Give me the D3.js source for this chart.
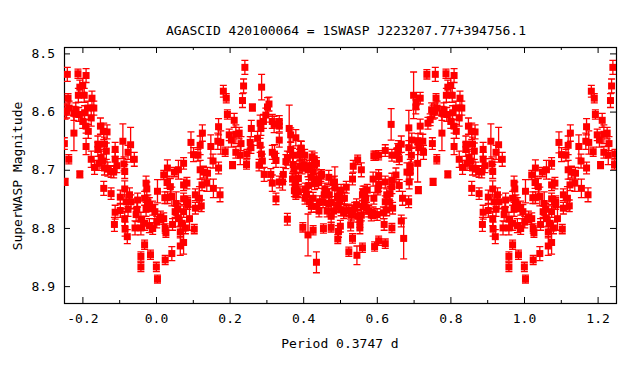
<!DOCTYPE html>
<html>
<head>
<meta charset="utf-8">
<script src="https://cdn.jsdelivr.net/npm/d3@7"></script>
<style>
body { margin: 0; background: #fff; }
svg { display: block; font-family: "DejaVu Sans Mono", "Liberation Mono", monospace; }
</style>
</head>
<body>
<svg width="640" height="384"></svg>
<script>
var title = "AGASCID 420100064 = 1SWASP J223207.77+394756.1";
var xTitle = "Period 0.3747 d";
var yTitle = "SuperWASP Magnitude";
var xMajor = [-0.2, 0.0, 0.2, 0.4, 0.6, 0.8, 1.0, 1.2];
var xMinor = [-0.1, 0.1, 0.3, 0.5, 0.7, 0.9, 1.1];
var yMajor = [8.5, 8.6, 8.7, 8.8, 8.9];

// [phase, magnitude, error] for one cycle
var lightCurve = [
  [0.183,8.565,0.010],[0.191,8.577,0.008],[0.194,8.605,0.008],[0.170,8.626,0.014],[0.168,8.651,0.014],
  [0.176,8.653,0.020],[0.188,8.669,0.008],[0.126,8.637,0.014],[0.120,8.658,0.016],[0.095,8.653,0.018],
  [0.102,8.674,0.012],[0.114,8.675,0.010],[0.149,8.660,0.020],[0.155,8.685,0.012],[0.170,8.697,0.010],
  [0.120,8.700,0.016],[0.129,8.704,0.010],[0.140,8.706,0.010],[0.138,8.723,0.014],[0.156,8.732,0.016],
  [0.174,8.743,0.012],[0.125,8.726,0.010],[0.118,8.749,0.020],[0.123,8.762,0.010],[0.107,8.743,0.010],
  [0.107,8.766,0.010],[0.104,8.802,0.008],[0.091,8.784,0.020],[0.086,8.755,0.010],[0.084,8.723,0.010],
  [0.075,8.726,0.010],[0.075,8.689,0.010],[0.061,8.700,0.016],[0.050,8.704,0.008],[0.031,8.697,0.014],
  [0.021,8.709,0.008],[0.030,8.722,0.010],[0.039,8.729,0.014],[0.004,8.737,0.020],[0.024,8.748,0.010],
  [0.031,8.748,0.010],[0.043,8.746,0.016],[0.055,8.758,0.020],[0.059,8.768,0.010],[0.075,8.750,0.010],
  [0.075,8.772,0.010],[0.086,8.758,0.010],[0.052,8.772,0.010],[0.061,8.784,0.014],[0.071,8.792,0.010],
  [0.080,8.800,0.010],[0.066,8.807,0.010],[0.045,8.794,0.010],[0.025,8.801,0.008],[0.027,8.808,0.008],
  [0.021,8.784,0.010],[0.012,8.781,0.010],[0.002,8.790,0.010],[0.075,8.825,0.020],[0.066,8.831,0.016],
  [0.043,8.844,0.012],[0.025,8.855,0.008],[0.001,8.867,0.008],[0.004,8.888,0.007],
  [0.2415,8.524,0.012],[0.238,8.556,0.012],[0.235,8.581,0.012],[0.262,8.593,0.006],[0.287,8.558,0.022],
  [0.303,8.592,0.016],[0.307,8.587,0.012],[0.2985,8.606,0.012],[0.283,8.620,0.014],[0.285,8.629,0.012],
  [0.292,8.617,0.012],[0.316,8.617,0.012],[0.321,8.622,0.014],[0.335,8.617,0.010],[0.335,8.625,0.010],
  [0.362,8.629,0.040],[0.366,8.640,0.012],[0.380,8.645,0.014],[0.3935,8.663,0.012],[0.392,8.673,0.010],
  [0.199,8.640,0.010],[0.217,8.639,0.016],[0.226,8.637,0.010],[0.2125,8.615,0.012],[0.205,8.649,0.012],
  [0.231,8.655,0.012],[0.229,8.675,0.016],[0.217,8.670,0.010],[0.208,8.692,0.006],[0.247,8.673,0.008],
  [0.246,8.691,0.008],[0.256,8.653,0.010],[0.259,8.629,0.014],[0.258,8.662,0.010],[0.276,8.646,0.012],
  [0.283,8.658,0.012],[0.2865,8.673,0.012],[0.289,8.685,0.012],[0.280,8.692,0.010],[0.294,8.708,0.012],
  [0.312,8.708,0.010],[0.316,8.670,0.012],[0.322,8.673,0.016],[0.326,8.684,0.012],[0.316,8.723,0.014],
  [0.326,8.750,0.010],[0.335,8.721,0.010],[0.346,8.708,0.012],[0.344,8.721,0.014],[0.353,8.686,0.012],
  [0.357,8.680,0.012],[0.335,8.649,0.012],[0.366,8.665,0.012],[0.371,8.675,0.012],[0.373,8.691,0.012],
  [0.375,8.699,0.010],[0.371,8.716,0.010],[0.380,8.716,0.010],[0.378,8.727,0.010],[0.376,8.736,0.010],
  [0.383,8.736,0.010],[0.380,8.743,0.008],[0.384,8.738,0.008],[0.357,8.785,0.010],
  [0.395,8.663,0.012],[0.404,8.675,0.010],[0.390,8.675,0.010],[0.387,8.715,0.010],[0.387,8.738,0.010],
  [0.405,8.733,0.010],[0.409,8.743,0.010],[0.405,8.749,0.010],[0.413,8.700,0.012],[0.417,8.694,0.010],
  [0.424,8.678,0.010],[0.430,8.681,0.010],[0.431,8.692,0.010],[0.436,8.689,0.010],[0.427,8.704,0.010],
  [0.422,8.713,0.010],[0.436,8.716,0.010],[0.431,8.724,0.010],[0.442,8.722,0.010],[0.448,8.710,0.010],
  [0.450,8.708,0.008],[0.417,8.755,0.008],[0.427,8.749,0.010],[0.436,8.763,0.010],[0.443,8.771,0.010],
  [0.445,8.755,0.010],[0.454,8.755,0.010],[0.457,8.743,0.010],[0.459,8.733,0.010],[0.464,8.738,0.010],
  [0.4695,8.713,0.012],[0.481,8.722,0.010],[0.485,8.721,0.010],[0.486,8.731,0.036],[0.471,8.743,0.010],
  [0.4695,8.758,0.010],[0.476,8.756,0.010],[0.483,8.771,0.010],[0.465,8.771,0.010],[0.476,8.780,0.010],
  [0.493,8.746,0.010],[0.499,8.743,0.010],[0.503,8.735,0.010],[0.507,8.749,0.010],[0.512,8.749,0.010],
  [0.517,8.730,0.010],[0.499,8.755,0.010],[0.494,8.763,0.010],[0.503,8.769,0.010],[0.510,8.774,0.010],
  [0.518,8.771,0.010],[0.524,8.769,0.010],[0.531,8.778,0.010],[0.536,8.771,0.010],[0.540,8.766,0.010],
  [0.545,8.760,0.010],[0.548,8.780,0.010],[0.554,8.789,0.010],[0.558,8.778,0.010],[0.563,8.763,0.010],
  [0.566,8.755,0.010],[0.561,8.743,0.010],[0.563,8.738,0.010],[0.567,8.738,0.010],[0.574,8.735,0.010],
  [0.570,8.749,0.010],[0.572,8.766,0.010],[0.578,8.771,0.010],[0.585,8.778,0.010],[0.590,8.774,0.010],
  [0.592,8.749,0.010],[0.590,8.716,0.012],[0.592,8.676,0.008],[0.548,8.683,0.008],[0.558,8.700,0.012],
  [0.536,8.694,0.010],[0.534,8.716,0.010],[0.529,8.795,0.010],[0.554,8.800,0.010],[0.534,8.818,0.008],
  [0.561,8.834,0.008],[0.524,8.841,0.008],[0.546,8.847,0.016],[0.594,8.832,0.008],[0.494,8.819,0.008],
  [0.496,8.806,0.010],[0.501,8.797,0.010],[0.476,8.799,0.008],[0.455,8.801,0.008],[0.427,8.804,0.008],
  [0.413,8.812,0.036],[0.399,8.799,0.008],[0.436,8.859,0.018],[0.422,8.763,0.010],[0.397,8.697,0.010],
  [0.402,8.692,0.010],[0.391,8.694,0.010],[0.415,8.727,0.010],
  [0.596,8.676,0.008],[0.605,8.675,0.008],[0.623,8.667,0.010],[0.641,8.675,0.010],[0.639,8.622,0.027],
  [0.654,8.675,0.012],[0.659,8.662,0.012],[0.657,8.667,0.012],[0.6665,8.656,0.014],[0.661,8.681,0.010],
  [0.652,8.709,0.012],[0.641,8.718,0.012],[0.623,8.721,0.010],[0.605,8.710,0.010],[0.605,8.727,0.010],
  [0.603,8.735,0.008],[0.641,8.729,0.012],[0.636,8.741,0.012],[0.627,8.743,0.010],[0.623,8.755,0.010],
  [0.634,8.755,0.010],[0.643,8.766,0.010],[0.627,8.769,0.010],[0.618,8.774,0.010],[0.601,8.777,0.010],
  [0.620,8.794,0.010],[0.641,8.800,0.008],[0.6665,8.788,0.010],[0.673,8.818,0.035],[0.623,8.827,0.008],
  [0.605,8.822,0.008],[0.661,8.727,0.010],[0.670,8.749,0.012],[0.6865,8.755,0.010],[0.682,8.704,0.016],
  [0.691,8.704,0.012],[0.688,8.721,0.012],[0.691,8.694,0.012],[0.687,8.662,0.012],[0.687,8.628,0.030],
  [0.695,8.649,0.012],[0.694,8.675,0.012],[0.700,8.572,0.040],[0.706,8.592,0.012],[0.707,8.584,0.012],
  [0.718,8.577,0.010],[0.718,8.625,0.012],[0.712,8.650,0.012],[0.714,8.662,0.012],[0.725,8.651,0.012],
  [0.727,8.670,0.012],[0.711,8.689,0.032],[0.713,8.735,0.006],[0.736,8.536,0.008],[0.759,8.536,0.012],
  [0.788,8.535,0.008],[0.793,8.558,0.012],[0.789,8.572,0.012],[0.761,8.577,0.008],[0.749,8.597,0.012],
  [0.753,8.601,0.012],[0.757,8.599,0.012],[0.764,8.594,0.012],[0.739,8.620,0.010],[0.745,8.614,0.010],
  [0.777,8.603,0.012],[0.782,8.597,0.012],[0.790,8.605,0.012],[0.777,8.637,0.030],[0.751,8.655,0.010],
  [0.763,8.682,0.008],[0.753,8.721,0.006],[0.793,8.708,0.006],
  [0.810,8.538,0.012],[0.801,8.555,0.012],[0.805,8.572,0.012],[0.826,8.577,0.012],[0.831,8.594,0.012],
  [0.815,8.594,0.012],[0.806,8.602,0.012],[0.824,8.611,0.014],[0.801,8.617,0.012],[0.810,8.625,0.012],
  [0.816,8.634,0.012],[0.810,8.660,0.014],[0.849,8.625,0.014],[0.858,8.634,0.014],[0.867,8.635,0.012],
  [0.860,8.656,0.012],[0.842,8.656,0.014],[0.842,8.665,0.012],[0.865,8.668,0.014],[0.889,8.665,0.012],
  [0.889,8.682,0.012],[0.824,8.682,0.014],[0.851,8.679,0.014],[0.856,8.685,0.012],[0.845,8.689,0.012],
  [0.833,8.696,0.012],[0.860,8.697,0.012],[0.869,8.699,0.012],[0.878,8.703,0.010],[0.885,8.704,0.010],
  [0.894,8.693,0.012],[0.910,8.651,0.030],[0.931,8.657,0.030],[0.924,8.670,0.012],[0.941,8.682,0.012],
  [0.913,8.690,0.012],[0.915,8.703,0.012],[0.858,8.732,0.012],[0.878,8.741,0.010],[0.903,8.747,0.012],
  [0.915,8.733,0.014],[0.919,8.755,0.012],[0.928,8.743,0.012],[0.932,8.755,0.012],[0.950,8.752,0.012],
  [0.973,8.723,0.012],[0.975,8.733,0.012],[0.969,8.749,0.012],[0.978,8.755,0.012],[0.982,8.760,0.012],
  [0.973,8.768,0.012],[0.991,8.766,0.012],[0.997,8.772,0.012],[0.948,8.768,0.012],[0.946,8.777,0.012],
  [0.959,8.785,0.012],[0.969,8.792,0.012],[0.982,8.796,0.012],[0.991,8.801,0.010],[0.903,8.770,0.012],
  [0.889,8.773,0.012],[0.915,8.784,0.012],[0.924,8.768,0.012],[0.887,8.794,0.012],[0.916,8.802,0.012],
  [0.922,8.815,0.012],[0.943,8.800,0.012],[0.959,8.800,0.012],[0.969,8.829,0.008],[0.959,8.849,0.008],
  [0.985,8.846,0.008],[0.959,8.867,0.008]
];

var svg = d3.select("svg"),
    width = +svg.attr("width"),
    height = +svg.attr("height");
var plotL = 64, plotR = 616, plotT = 47, plotB = 303;

var x = d3.scaleLinear().domain([-0.25, 1.25]).range([plotL, plotR]);
var y = d3.scaleLinear().domain([8.489, 8.929]).range([plotT, plotB]);
var fmt = function(d) { return d.toFixed(1); };

// fold: show each cycle point again one period earlier / later where it fits
var shown = [];
lightCurve.forEach(function(d) {
  [-1, 0, 1].forEach(function(k) {
    var p = d[0] + k;
    if (p >= -0.25 && p <= 1.25) shown.push({phase: p, mag: d[1], err: d[2]});
  });
});

svg.append("clipPath").attr("id", "plotclip")
  .append("rect").attr("x", plotL).attr("y", plotT)
  .attr("width", plotR - plotL).attr("height", plotB - plotT);

// axes, ticks pointing inward
function styleAxis(g) {
  g.select(".domain").remove();
  g.attr("font-family", null).attr("font-size", 13);
  g.selectAll("line").attr("stroke", "#000");
  g.selectAll("text").attr("fill", "#000");
}
svg.append("g").attr("transform", "translate(0," + plotB + ")")
  .call(d3.axisBottom(x).tickValues(xMajor).tickSize(-6).tickPadding(11).tickFormat(fmt))
  .call(styleAxis);
svg.append("g").attr("transform", "translate(0," + plotB + ")")
  .call(d3.axisBottom(x).tickValues(xMinor).tickSize(-3).tickFormat(""))
  .call(styleAxis);
svg.append("g").attr("transform", "translate(0," + plotT + ")")
  .call(d3.axisTop(x).tickValues(xMajor).tickSize(-6).tickFormat(""))
  .call(styleAxis);
svg.append("g").attr("transform", "translate(0," + plotT + ")")
  .call(d3.axisTop(x).tickValues(xMinor).tickSize(-3).tickFormat(""))
  .call(styleAxis);
svg.append("g").attr("transform", "translate(" + plotL + ",0)")
  .call(d3.axisLeft(y).tickValues(yMajor).tickSize(-6).tickPadding(9).tickFormat(fmt))
  .call(styleAxis);
svg.append("g").attr("transform", "translate(" + plotR + ",0)")
  .call(d3.axisRight(y).tickValues(yMajor).tickSize(-6).tickFormat(""))
  .call(styleAxis);

svg.append("rect")
  .attr("x", plotL + 0.5).attr("y", plotT + 0.5)
  .attr("width", plotR - plotL).attr("height", plotB - plotT)
  .attr("fill", "none").attr("stroke", "#000").attr("stroke-width", 1.2);

// error bars + square points
var marks = svg.append("g").attr("clip-path", "url(#plotclip)");
var cap = 3.5, half = 3.5;

marks.selectAll("path.err")
  .data(shown)
  .enter().append("path")
    .attr("class", "err")
    .attr("fill", "none")
    .attr("stroke", "#ff0000")
    .attr("stroke-width", 1.3)
    .attr("d", function(d) {
      var cx = x(d.phase), y0 = y(d.mag - d.err), y1 = y(d.mag + d.err);
      return "M" + cx + "," + y0 + "V" + y1 +
             "M" + (cx - cap) + "," + y0 + "H" + (cx + cap) +
             "M" + (cx - cap) + "," + y1 + "H" + (cx + cap);
    });

marks.selectAll("rect.pt")
  .data(shown)
  .enter().append("rect")
    .attr("class", "pt")
    .attr("x", function(d) { return x(d.phase) - half; })
    .attr("y", function(d) { return y(d.mag) - half; })
    .attr("width", half * 2)
    .attr("height", half * 2)
    .attr("fill", "#ff0000");

// texts
svg.append("text")
  .attr("x", 346).attr("y", 35)
  .attr("text-anchor", "middle").attr("font-size", 13)
  .text(title);
svg.append("text")
  .attr("x", (plotL + plotR) / 2).attr("y", 348)
  .attr("text-anchor", "middle").attr("font-size", 13)
  .text(xTitle);
svg.append("text")
  .attr("transform", "translate(22," + ((plotT + plotB) / 2 + 1) + ") rotate(-90)")
  .attr("text-anchor", "middle").attr("font-size", 13)
  .text(yTitle);
</script>
</body>
</html>
